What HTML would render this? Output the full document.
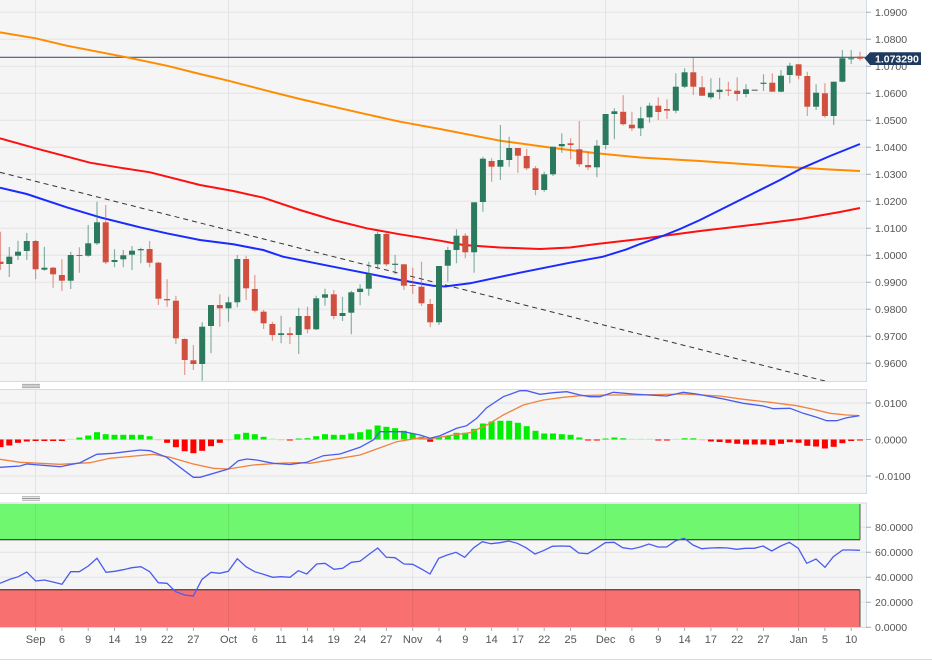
<!DOCTYPE html>
<html><head><meta charset="utf-8"><style>
html,body{margin:0;padding:0;background:#fff;overflow:hidden;}
svg{display:block;font-family:"Liberation Sans",Arial,sans-serif;}
.ax{font-size:10.5px;fill:#555;}
.xl{font-size:11px;fill:#555;text-anchor:middle;}
</style></head><body>
<svg width="932" height="664" viewBox="0 0 932 664" xmlns="http://www.w3.org/2000/svg">
<defs>
<clipPath id="cm"><rect x="0" y="0" width="866" height="381"/></clipPath>
<clipPath id="cd"><rect x="0" y="389" width="866" height="104"/></clipPath>
<clipPath id="cr"><rect x="0" y="503" width="866" height="124.5"/></clipPath>
</defs>
<rect x="0" y="0" width="932" height="664" fill="#fff"/>
<!-- panel backgrounds -->
<rect x="0" y="0" width="866" height="381" fill="#f5f5f5"/>
<rect x="0" y="389" width="866" height="104" fill="#f5f5f5"/>
<rect x="0" y="503" width="866" height="124.5" fill="#f5f5f5"/>

<!-- main horizontal grid -->
<g stroke="#e3e3e3" stroke-width="1">
<path d="M0 12.3H866M0 39.3H866M0 66.3H866M0 93.3H866M0 120.3H866M0 147.3H866M0 174.3H866M0 201.3H866M0 228.3H866M0 255.3H866M0 282.3H866M0 309.3H866M0 336.3H866M0 363.3H866"/>
<path d="M0 403H866M0 439.5H866M0 476H866"/>
<path d="M0 527.3H866M0 552.3H866M0 577.3H866M0 602.3H866"/>
<path d="M35.6 0V381M228.5 0V381M412.7 0V381M605.6 0V381M798.6 0V381"/>
<path d="M35.6 389V493M228.5 389V493M412.7 389V493M605.6 389V493M798.6 389V493"/>
</g>

<!-- MAIN PANEL -->
<g clip-path="url(#cm)">
<line x1="0" y1="172.3" x2="866" y2="391.4" stroke="#333" stroke-width="1" stroke-dasharray="5,4"/>
<line x1="0" y1="57.3" x2="866" y2="57.3" stroke="#46597a" stroke-width="1.2"/>
<polyline fill="none" stroke="#ff8c00" stroke-width="2" points="0,32.3 35.7,38.3 66.7,45.7 126.7,57.3 166.7,65.7 200,74 228.3,80.7 266.7,90.7 300,99 333.3,106.7 366.7,114.3 400,121.7 440,129 500,140.7 553.3,148 596.7,153.3 640,157.5 700,161 780,166.5 830,169.5 860,171"/>
<polyline fill="none" stroke="#ff1010" stroke-width="2" points="0,138.3 35.7,148.3 90,162.7 120,167.7 150,172.3 200,185 233.3,191 263.3,197.7 300,210 333.3,220 366.7,228.3 400,234.3 440,240.7 463.3,245 500,247.5 540,249 570,247.5 596.7,244 640,239 700,231 760,224 800,219 840,212 860,208"/>
<polyline fill="none" stroke="#1a2bff" stroke-width="2" points="0,187.7 26.7,194 66.7,207.3 100,217.3 140,227.3 166.7,233.3 200,240 233.3,244.3 263.3,250 283,256.7 333,266.7 366.7,273.3 400,280 433,285.7 445,286.5 470,283.3 520,272.7 570,262.7 603,256.7 626.7,249.3 640,244 660,237 680,229 700,220 720,210 740,200 760,190 780,180 801.7,168.3 830,156 860,144"/>

<!-- wicks -->
<path fill="none" stroke="#2c7a5e" stroke-opacity="0.55" stroke-width="1.2" d="M9.3 247V277M18 240.7V260M26.8 233V260M44.4 246.7V270.7M70.7 251.7V289M88.2 225V256.7M97 201.7V245M114.5 249.3V267.3M123.3 250V267.3M132 246V270M140.8 247.7V263.3M202.2 322.3V380.7M211 305V353.3M228.5 296.7V321.7M237.3 255V307.3M281.1 315.7V343.3M298.7 307.7V354M316.2 295.7V330M325 288.7V305.7M342.5 296.7V321M351.3 290.7V334.3M360.1 284.3V305.3M368.8 261.7V295.7M377.6 231.7V269.3M395.1 255V274.3M439 266V325M447.8 246.7V281.7M456.5 229.3V263.3M474.1 202.3V272.7M482.9 156.7V211.7M500.4 125V180M509.2 136.7V166.7M544.2 171.7V191.7M553 146.7V176M561.8 133.3V152.7M596.9 140V177.3M605.6 114V149.3M614.4 108.3V139.3M640.7 106.7V136M649.5 102.7V122.7M675.8 73.3V113.3M684.6 68.3V88.3M710.9 78.3V99.3M719.6 77.7V99.3M746 84.3V97.3M763.5 74.3V91M781 70V92.3M789.8 62.7V83.3M816.1 84.3V110M833.7 81.7V125M842.4 50V82.3M851.2 50V64"/>
<path fill="none" stroke="#d14f3e" stroke-opacity="0.55" stroke-width="1.2" d="M0.5 231.7V270M35.6 240V279.3M53.1 267V287.7M61.9 259.3V291M79.4 247.3V272.7M105.7 205V264M149.6 241V267.3M158.4 261.7V305M167.1 279.3V306.7M175.9 295.7V344M184.7 338.3V375M193.4 345V370M219.8 294.3V326.7M246.1 255.7V300M254.8 275V312.3M263.6 310V329M272.4 321.7V340.7M289.9 327.3V344M307.5 306.7V333.3M333.8 290V319.3M386.4 231.7V266M403.9 264.3V290M412.7 267.7V294M421.5 261.7V306M430.2 299V327.3M465.3 233.3V258.3M491.6 158.3V181.7M517.9 148V172.7M526.7 148.7V170M535.5 166V195.3M570.6 138.3V159.3M579.3 121V166.7M588.1 151.7V170M623.2 95.3V125.5M631.9 111.7V131M658.3 97.3V120M667 99.3V119M693.3 56.7V95M702.1 76V96M728.4 81.7V96M737.2 77.3V101M772.3 73.3V91.7M798.6 64.3V79.3M807.3 71.7V116M824.9 83.3V117.7M860 51.7V60.7"/>

<!-- green bodies -->
<g fill="#2c7a5e">
<rect x="6.3" y="256.7" width="6" height="7.3"/><rect x="15" y="251.7" width="6" height="4"/><rect x="23.8" y="241" width="6" height="10"/><rect x="41.4" y="267.7" width="6" height="2"/><rect x="67.7" y="255" width="6" height="25.7"/><rect x="85.2" y="243.3" width="6" height="12.4"/><rect x="94" y="222.3" width="6" height="21"/><rect x="111.5" y="260" width="6" height="2"/><rect x="120.3" y="255.3" width="6" height="4"/><rect x="129" y="250.7" width="6" height="4"/><rect x="137.8" y="249" width="6" height="1.3"/><rect x="199.2" y="326.7" width="6" height="37.3"/><rect x="208" y="305" width="6" height="21"/><rect x="225.5" y="302.3" width="6" height="6"/><rect x="234.3" y="259" width="6" height="43.3"/><rect x="278.1" y="333.3" width="6" height="1.7"/><rect x="295.7" y="316" width="6" height="19"/><rect x="313.2" y="298.3" width="6" height="31"/><rect x="322" y="294.3" width="6" height="3.4"/><rect x="339.5" y="313" width="6" height="3"/><rect x="348.3" y="292.3" width="6" height="20.4"/><rect x="357.1" y="288.7" width="6" height="3.3"/><rect x="365.8" y="274" width="6" height="14.7"/><rect x="374.6" y="234" width="6" height="30.3"/><rect x="392.1" y="263.7" width="6" height="1.2"/><rect x="436" y="266" width="6" height="56.3"/><rect x="444.8" y="250" width="6" height="15.7"/><rect x="453.5" y="235.7" width="6" height="14.3"/><rect x="471.1" y="202.3" width="6" height="50"/><rect x="479.9" y="158.7" width="6" height="43.3"/><rect x="497.4" y="160" width="6" height="6.7"/><rect x="506.2" y="148" width="6" height="12"/><rect x="541.2" y="174.3" width="6" height="15.7"/><rect x="550" y="146.7" width="6" height="27.6"/><rect x="558.8" y="144" width="6" height="2.3"/><rect x="593.9" y="145.7" width="6" height="21.6"/><rect x="602.6" y="114" width="6" height="31"/><rect x="611.4" y="111.3" width="6" height="2.7"/><rect x="637.7" y="118.3" width="6" height="10"/><rect x="646.5" y="105.7" width="6" height="11.6"/><rect x="672.8" y="86.7" width="6" height="24"/><rect x="681.6" y="72.3" width="6" height="14.4"/><rect x="707.9" y="92.7" width="6" height="4.6"/><rect x="716.6" y="89.7" width="6" height="2.3"/><rect x="743" y="89.3" width="6" height="4.7"/><rect x="760.5" y="82.7" width="6" height="1.2"/><rect x="778" y="75.7" width="6" height="16"/><rect x="786.8" y="65.7" width="6" height="9.3"/><rect x="813.1" y="92.7" width="6" height="14"/><rect x="830.7" y="81.7" width="6" height="34.3"/><rect x="839.4" y="58.3" width="6" height="23.4"/><rect x="848.2" y="58.3" width="6" height="1"/>
</g>
<!-- red bodies -->
<g fill="#d14f3e">
<rect x="-2.5" y="261.7" width="6" height="2.3"/><rect x="32.6" y="241" width="6" height="28.3"/><rect x="50.1" y="267.7" width="6" height="6.6"/><rect x="58.9" y="275" width="6" height="5.7"/><rect x="76.4" y="255" width="6" height="1"/><rect x="102.7" y="222.3" width="6" height="40"/><rect x="146.6" y="249" width="6" height="13.7"/><rect x="155.4" y="262.7" width="6" height="36"/><rect x="164.1" y="299" width="6" height="1.3"/><rect x="172.9" y="300.7" width="6" height="37.6"/><rect x="181.7" y="339" width="6" height="21"/><rect x="190.4" y="360.3" width="6" height="3.7"/><rect x="216.8" y="305" width="6" height="3.3"/><rect x="243.1" y="259" width="6" height="29.3"/><rect x="251.8" y="289" width="6" height="21.7"/><rect x="260.6" y="311.7" width="6" height="11.6"/><rect x="269.4" y="324" width="6" height="11"/><rect x="286.9" y="333.3" width="6" height="1.7"/><rect x="304.5" y="316" width="6" height="13.3"/><rect x="330.8" y="294.3" width="6" height="21.7"/><rect x="383.4" y="234" width="6" height="30.3"/><rect x="400.9" y="264.3" width="6" height="21.4"/><rect x="409.7" y="285" width="6" height="1"/><rect x="418.5" y="286.7" width="6" height="16.6"/><rect x="427.2" y="304" width="6" height="18.3"/><rect x="462.3" y="235.7" width="6" height="16.6"/><rect x="488.6" y="161" width="6" height="5.7"/><rect x="514.9" y="148" width="6" height="7.7"/><rect x="523.7" y="156" width="6" height="12.3"/><rect x="532.5" y="168.3" width="6" height="21.7"/><rect x="567.6" y="143.3" width="6" height="1.7"/><rect x="576.3" y="149.3" width="6" height="15"/><rect x="585.1" y="165" width="6" height="2.3"/><rect x="620.2" y="111.8" width="6" height="12.4"/><rect x="628.9" y="124.7" width="6" height="3.6"/><rect x="655.3" y="105.7" width="6" height="6.3"/><rect x="664" y="109" width="6" height="1.7"/><rect x="690.3" y="72.3" width="6" height="14.4"/><rect x="699.1" y="87.3" width="6" height="8.4"/><rect x="725.4" y="89.7" width="6" height="1"/><rect x="734.2" y="90.7" width="6" height="3.3"/><rect x="769.3" y="82.7" width="6" height="9"/><rect x="795.6" y="64.3" width="6" height="11.4"/><rect x="804.3" y="76" width="6" height="30.7"/><rect x="821.9" y="93.3" width="6" height="22.7"/><rect x="857" y="56.7" width="6" height="2"/>
</g>
<rect x="751.7" y="89.5" width="6" height="1.5" fill="#888"/>
</g>

<!-- MACD PANEL -->
<g clip-path="url(#cd)">
<g fill="#00ee00">
<rect x="76.4" y="437.5" width="6" height="2"/><rect x="85.2" y="435.5" width="6" height="4"/><rect x="94" y="432.2" width="6" height="7.3"/><rect x="102.7" y="434.2" width="6" height="5.3"/><rect x="111.5" y="434.8" width="6" height="4.7"/><rect x="120.3" y="434.8" width="6" height="4.7"/><rect x="129" y="434.8" width="6" height="4.7"/><rect x="137.8" y="434.8" width="6" height="4.7"/><rect x="146.6" y="436.2" width="6" height="3.3"/>
<rect x="234.3" y="434.2" width="6" height="5.3"/><rect x="243.1" y="432.8" width="6" height="6.7"/><rect x="251.8" y="434.2" width="6" height="5.3"/><rect x="260.6" y="436.8" width="6" height="2.7"/>
<rect x="295.7" y="438.5" width="6" height="1"/><rect x="304.5" y="438.2" width="6" height="1.3"/><rect x="313.2" y="436.2" width="6" height="3.3"/><rect x="322" y="434.2" width="6" height="5.3"/><rect x="330.8" y="434.8" width="6" height="4.7"/><rect x="339.5" y="434.8" width="6" height="4.7"/><rect x="348.3" y="433.5" width="6" height="6"/><rect x="357.1" y="432.2" width="6" height="7.3"/><rect x="365.8" y="429.5" width="6" height="10"/><rect x="374.6" y="425.5" width="6" height="14"/><rect x="383.4" y="426.8" width="6" height="12.7"/><rect x="392.1" y="428.2" width="6" height="11.3"/><rect x="400.9" y="430.8" width="6" height="8.7"/><rect x="409.7" y="433.5" width="6" height="6"/><rect x="418.5" y="436.8" width="6" height="2.7"/>
<rect x="436" y="437.5" width="6" height="2"/><rect x="444.8" y="435.5" width="6" height="4"/><rect x="453.5" y="432.8" width="6" height="6.7"/><rect x="462.3" y="432.8" width="6" height="6.7"/><rect x="471.1" y="428.8" width="6" height="10.7"/><rect x="479.9" y="423.5" width="6" height="16"/><rect x="488.6" y="421.5" width="6" height="18"/><rect x="497.4" y="420.8" width="6" height="18.7"/><rect x="506.2" y="420.8" width="6" height="18.7"/><rect x="514.9" y="422.8" width="6" height="16.7"/><rect x="523.7" y="426.2" width="6" height="13.3"/><rect x="532.5" y="430.8" width="6" height="8.7"/><rect x="541.2" y="433.5" width="6" height="6"/><rect x="550" y="433.5" width="6" height="6"/><rect x="558.8" y="434.2" width="6" height="5.3"/><rect x="567.6" y="434.8" width="6" height="4.7"/><rect x="576.3" y="437.5" width="6" height="2"/>
<rect x="602.6" y="438.5" width="6" height="1"/><rect x="611.4" y="437.5" width="6" height="2"/><rect x="620.2" y="438.3" width="6" height="1.2"/><rect x="681.6" y="438.3" width="6" height="1.2"/><rect x="690.3" y="438.3" width="6" height="1.2"/>
</g>
<g fill="#b6f2b6">
<rect x="67.7" y="438.7" width="6" height="0.8"/><rect x="269.4" y="438.5" width="6" height="1"/><rect x="628.9" y="438.7" width="6" height="0.8"/><rect x="637.7" y="438.7" width="6" height="0.8"/><rect x="646.5" y="438.7" width="6" height="0.8"/><rect x="672.8" y="438.7" width="6" height="0.8"/>
</g>
<g fill="#ff0000">
<rect x="-2.5" y="439.5" width="6" height="7.6"/><rect x="6.3" y="439.5" width="6" height="6"/><rect x="15" y="439.5" width="6" height="3.3"/><rect x="23.8" y="439.5" width="6" height="2"/><rect x="32.6" y="439.5" width="6" height="1.5"/><rect x="41.4" y="439.5" width="6" height="1.5"/><rect x="50.1" y="439.5" width="6" height="1.5"/><rect x="58.9" y="439.5" width="6" height="1.5"/>
<rect x="164.1" y="439.5" width="6" height="3.3"/><rect x="172.9" y="439.5" width="6" height="7.7"/><rect x="181.7" y="439.5" width="6" height="11.7"/><rect x="190.4" y="439.5" width="6" height="13.7"/><rect x="199.2" y="439.5" width="6" height="11.3"/><rect x="208" y="439.5" width="6" height="6.7"/><rect x="216.8" y="439.5" width="6" height="3.3"/>
<rect x="286.9" y="439.5" width="6" height="1"/><rect x="427.2" y="439.5" width="6" height="2.3"/>
<rect x="585.1" y="439.5" width="6" height="1"/><rect x="593.9" y="439.5" width="6" height="1"/><rect x="655.3" y="439.5" width="6" height="1"/><rect x="664" y="439.5" width="6" height="1"/>
<rect x="707.9" y="439.5" width="6" height="2"/><rect x="716.6" y="439.5" width="6" height="2.5"/><rect x="725.4" y="439.5" width="6" height="3.3"/><rect x="734.2" y="439.5" width="6" height="4.3"/><rect x="743" y="439.5" width="6" height="5"/><rect x="751.7" y="439.5" width="6" height="5"/><rect x="760.5" y="439.5" width="6" height="5"/><rect x="769.3" y="439.5" width="6" height="5.7"/><rect x="778" y="439.5" width="6" height="4.3"/><rect x="786.8" y="439.5" width="6" height="2.7"/><rect x="795.6" y="439.5" width="6" height="3.3"/><rect x="804.3" y="439.5" width="6" height="6.3"/><rect x="813.1" y="439.5" width="6" height="7"/><rect x="821.9" y="439.5" width="6" height="9"/><rect x="830.7" y="439.5" width="6" height="7.3"/><rect x="839.4" y="439.5" width="6" height="3.7"/><rect x="848.2" y="439.5" width="6" height="1.5"/><rect x="857" y="439.5" width="6" height="1"/>
</g>
<g fill="#f5b5b5">
<rect x="155.4" y="439.5" width="6" height="0.8"/><rect x="225.5" y="439.5" width="6" height="0.8"/><rect x="278.1" y="439.5" width="6" height="0.8"/><rect x="699.1" y="439.5" width="6" height="0.8"/>
</g>
<polyline fill="none" stroke="#f2823f" stroke-width="1.3" points="0,459.3 20,462.3 60,464.3 90,462.7 110,458.3 153.3,454.3 170,457.3 193.3,464 213.3,468.3 228.3,469 253.3,465 283.3,463 300,462.7 310,463.3 340,458.3 360,455 376.7,449 396.7,441.7 416.7,438.3 430,439 446.7,436 470,432.7 486.7,425 503.3,415 523.3,405 543.3,400 563.3,397.3 580,395.7 603.3,395 636.7,395 683.3,394 720,396 743.3,399.3 770,402.3 796.7,405.7 813.3,409.3 830,413.3 846.7,415 859.3,415.7"/>
<polyline fill="none" stroke="#4a5cf0" stroke-width="1.3" points="0,467.3 20,466 26.7,464 60,466.7 80,462.7 96.7,454.3 113,453.3 140,450 150,450.7 166.7,457.3 193.3,477.3 200,477.3 228.3,469 238.3,460.7 246.7,459 256.7,460 273.3,463.3 290,464.5 306.7,462.3 323.3,455.7 340,454 360,447.3 373.3,440 380,431.7 390,431.7 403.3,431.7 420,435 430,438.3 440,435.7 456.7,428.3 466.7,425.7 476.7,418.3 486.7,407.7 503.3,396.7 520,390.7 526.7,390.7 540,394.3 553.3,392.7 566.7,391.7 580,395 590,396.7 600,396.7 613.3,392.3 636.7,394.3 666.7,396 683.3,392.3 696.7,394 720,398.3 743.3,403.3 763.3,406 773.3,408.7 790,408.3 803.3,413.3 816.7,417.3 826.7,420.7 836.7,420.7 846.7,417.7 859.3,415.7"/>
</g>

<!-- RSI PANEL -->
<g clip-path="url(#cr)">
<rect x="0" y="504" width="860" height="35.8" fill="#70f770"/>
<rect x="0" y="589.8" width="860" height="38" fill="#f87070"/>
<path d="M0 539.8H860M0 589.8H860" stroke="#222" stroke-width="1"/>
<path d="M860 504V539.8M860 589.8V627.5" stroke="#555" stroke-width="1"/>
<path d="M35.6 503V627.5M228.5 503V627.5M412.7 503V627.5M605.6 503V627.5M798.6 503V627.5" stroke="#000" stroke-opacity="0.07" stroke-width="1"/>
<polyline fill="none" stroke="#4a5cf0" stroke-width="1.3" points="0,583.3 10,579.3 18.3,576.7 26.7,572 35.7,581 44.3,580 53,582 62,584.3 70.7,571.7 79.3,571.7 88.3,566 97,558.3 106,572.3 114.7,571.3 123.3,569.7 132,567.7 141,566.7 149.7,571.7 158.3,582.7 167,583.3 175.7,591.7 184.7,595 193.3,596 202,579.3 211,572.3 219.7,573.3 228.3,571.3 237.3,558.7 246,566.7 254.7,571.7 263.3,574.3 272.7,577.3 281,576.7 290,577.3 298.3,570.7 306.7,574 316.7,564 325,563.3 334,569.3 342.7,568.3 351.3,562.3 360,561.3 368.8,554.5 377.7,548 386.3,557.3 395,557.7 404,564 412.7,564.3 421.4,569 430,574 438.7,558.3 447.3,555 456,552.3 464.7,557.3 473.7,547.7 482.3,541.7 491,543.7 500,542.7 508.7,541 517.3,543.3 526,547.7 535,554 543.3,550.7 552.3,546.3 561,546 570,546.3 578.7,553 587.7,553.7 596.7,548.3 605.3,542.7 614,542.3 622.7,547.7 631.7,549 640.3,547 649,544 658,547 666.7,547 675.7,540.7 684.3,538.3 693,545 701.7,548.7 710.7,548 719.3,547.7 728,548 736.7,549.3 745.3,548.3 754.3,548.3 763,546 771.7,551 780.7,546 789.3,542.3 798.3,548.3 806.7,563.3 816,559 825,567.3 833.3,556.7 842.7,550 851.7,550 860,550.3"/>
</g>

<!-- panel borders -->
<g fill="none" stroke="#d5dbe4" stroke-width="1">
<path d="M0 381.5H866.5V0"/>
<path d="M0 389.5H866.5V493.5H0"/>
<path d="M0 503H866.5V627.5H0"/>
<path d="M0 659.5H932"/>
</g>
<!-- handles -->
<g stroke="#999" stroke-width="0.9">
<path d="M22 384.3H40M22 386H40M22 387.7H40"/>
<path d="M22 496.8H40M22 498.5H40M22 500.2H40"/>
</g>

<!-- right axis ticks -->
<g stroke="#aab" stroke-width="1">
<path d="M866 12.3H871M866 39.3H871M866 66.3H871M866 93.3H871M866 120.3H871M866 147.3H871M866 174.3H871M866 201.3H871M866 228.3H871M866 255.3H871M866 282.3H871M866 309.3H871M866 336.3H871M866 363.3H871"/>
<path d="M866 403H871M866 439.5H871M866 476H871"/>
<path d="M866 527.3H871M866 552.3H871M866 577.3H871M866 602.3H871M866 627.3H871"/>
<path d="M35.6 627.5V631M61.9 627.5V631M88.2 627.5V631M114.5 627.5V631M140.8 627.5V631M167.1 627.5V631M193.4 627.5V631M228.5 627.5V631M254.8 627.5V631M281.1 627.5V631M307.5 627.5V631M333.8 627.5V631M360.1 627.5V631M386.4 627.5V631M412.7 627.5V631M439 627.5V631M465.3 627.5V631M491.6 627.5V631M517.9 627.5V631M544.2 627.5V631M570.6 627.5V631M605.6 627.5V631M631.9 627.5V631M658.3 627.5V631M684.6 627.5V631M710.9 627.5V631M737.2 627.5V631M763.5 627.5V631M798.6 627.5V631M824.9 627.5V631M851.2 627.5V631"/>
</g>

<!-- right axis labels -->
<g class="ax">
<text x="875" y="16.1">1.0900</text>
<text x="875" y="43.1">1.0800</text>
<text x="875" y="70.1">1.0700</text>
<text x="875" y="97.1">1.0600</text>
<text x="875" y="124.1">1.0500</text>
<text x="875" y="151.1">1.0400</text>
<text x="875" y="178.1">1.0300</text>
<text x="875" y="205.1">1.0200</text>
<text x="875" y="232.1">1.0100</text>
<text x="875" y="259.1">1.0000</text>
<text x="875" y="286.1">0.9900</text>
<text x="875" y="313.1">0.9800</text>
<text x="875" y="340.1">0.9700</text>
<text x="875" y="367.1">0.9600</text>
<text x="875" y="406.8">0.0100</text>
<text x="875" y="443.3">0.0000</text>
<text x="875" y="479.8">-0.0100</text>
<text x="875" y="531.1">80.0000</text>
<text x="875" y="556.1">60.0000</text>
<text x="875" y="581.1">40.0000</text>
<text x="875" y="606.1">20.0000</text>
<text x="875" y="631.1">0.0000</text>
</g>

<!-- price tag -->
<path d="M864.5 58.3L870 52.3H921V65H870Z" fill="#1f3a5f"/>
<text x="875" y="62.6" font-size="10.5" font-weight="bold" fill="#fff">1.073290</text>

<!-- x labels -->
<g class="xl">
<text x="35.6" y="643">Sep</text>
<text x="61.9" y="643">6</text>
<text x="88.2" y="643">9</text>
<text x="114.5" y="643">14</text>
<text x="140.8" y="643">19</text>
<text x="167.1" y="643">22</text>
<text x="193.4" y="643">27</text>
<text x="228.5" y="643">Oct</text>
<text x="254.8" y="643">6</text>
<text x="281.1" y="643">11</text>
<text x="307.5" y="643">14</text>
<text x="333.8" y="643">19</text>
<text x="360.1" y="643">24</text>
<text x="386.4" y="643">27</text>
<text x="412.7" y="643">Nov</text>
<text x="439" y="643">4</text>
<text x="465.3" y="643">9</text>
<text x="491.6" y="643">14</text>
<text x="517.9" y="643">17</text>
<text x="544.2" y="643">22</text>
<text x="570.6" y="643">25</text>
<text x="605.6" y="643">Dec</text>
<text x="631.9" y="643">6</text>
<text x="658.3" y="643">9</text>
<text x="684.6" y="643">14</text>
<text x="710.9" y="643">17</text>
<text x="737.2" y="643">22</text>
<text x="763.5" y="643">27</text>
<text x="798.6" y="643">Jan</text>
<text x="824.9" y="643">5</text>
<text x="851.2" y="643">10</text>
</g>
</svg>
</body></html>
